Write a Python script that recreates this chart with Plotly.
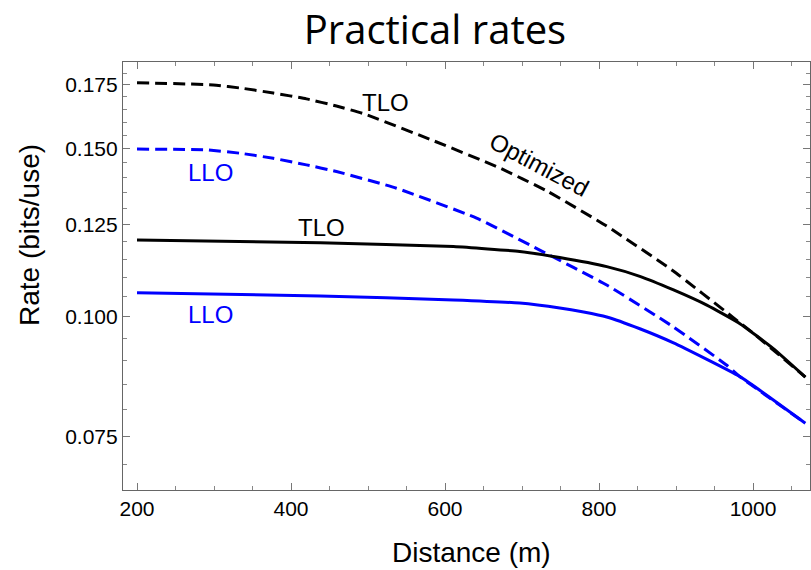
import plotly.graph_objects as go

# ---- data ----
tlo_opt_d = [200, 299, 338, 377, 420, 459, 494, 581, 668, 733, 810, 896, 974, 1000, 1068]
tlo_opt_v = [0.1759, 0.1750, 0.1735, 0.1716, 0.1692, 0.1663, 0.1633, 0.1534, 0.1436, 0.1354, 0.1245, 0.1118, 0.0999, 0.0962, 0.0865]

tlo_d = [200, 438, 611, 697, 749, 810, 853, 896, 940, 983, 1026, 1068]
tlo_v = [0.1204, 0.1196, 0.1185, 0.1171, 0.1154, 0.1129, 0.1103, 0.1068, 0.1029, 0.0984, 0.0927, 0.0865]

llo_opt_d = [200, 290, 334, 377, 420, 459, 537, 641, 723, 810, 896, 966, 983, 1068]
llo_opt_v = [0.1499, 0.1496, 0.1484, 0.1466, 0.1443, 0.1420, 0.1364, 0.1269, 0.1175, 0.1080, 0.0977, 0.0890, 0.0866, 0.0774]

llo_d = [200, 438, 611, 697, 749, 780, 810, 853, 896, 983, 1068]
llo_v = [0.1060, 0.1052, 0.1042, 0.1034, 0.1022, 0.1012, 0.1000, 0.0972, 0.0940, 0.0866, 0.0774]

x_ticks = [200, 400, 600, 800, 1000]
y_ticks = [0.075, 0.100, 0.125, 0.150, 0.175]
y_tick_text = ["0.075", "0.100", "0.125", "0.150", "0.175"]

BLUE = "#0000ff"
BLACK = "#000000"
FONT = "Liberation Sans, Arial, Helvetica, sans-serif"
SM = 0.45

fig = go.Figure()
fig.add_trace(go.Scatter(x=tlo_opt_d, y=tlo_opt_v, mode="lines", line=dict(color=BLACK, width=3, dash="12px,6px", shape="spline", smoothing=SM)))
fig.add_trace(go.Scatter(x=llo_opt_d, y=llo_opt_v, mode="lines", line=dict(color=BLUE, width=3, dash="12px,6px", shape="spline", smoothing=SM)))
fig.add_trace(go.Scatter(x=tlo_d, y=tlo_v, mode="lines", line=dict(color=BLACK, width=3, shape="spline", smoothing=SM)))
fig.add_trace(go.Scatter(x=llo_d, y=llo_v, mode="lines", line=dict(color=BLUE, width=3, shape="spline", smoothing=SM)))

minor_y = [round(0.065 + 0.005 * i, 3) for i in range(25)]
minor_y = [v for v in minor_y if v not in y_ticks]

axis_common = dict(showline=True, linecolor="#666666", linewidth=1.2, mirror="ticks",
                   ticks="inside", tickcolor="#777777", ticklen=7, tickwidth=1,
                   showgrid=False, zeroline=False,
                   tickfont=dict(family=FONT, size=21, color="#000000"))

fig.update_xaxes(range=[181.8, 1074], tickmode="array", tickvals=x_ticks,
                 minor=dict(dtick=50, tick0=0, ticks="inside", ticklen=4, tickcolor="#888888"),
                 **axis_common)
fig.update_yaxes(type="log", range=[-1.1812, -0.733], tickmode="array", tickvals=y_ticks,
                 ticktext=y_tick_text,
                 minor=dict(tickmode="array", tickvals=minor_y, ticks="inside", ticklen=4, tickcolor="#888888"),
                 **axis_common)

def lab(text, x, ylog, color, angle=0):
    fig.add_annotation(x=x, y=ylog, xref="x", yref="y", text=text, showarrow=False,
                       textangle=angle, xanchor="center", yanchor="middle",
                       font=dict(family=FONT, size=24, color=color))

lab("TLO", 523, -0.7759, BLACK)
lab("LLO", 296, -0.8482, BLUE)
lab("TLO", 440, -0.9068, BLACK)
lab("LLO", 295, -0.9969, BLUE)
lab("Optimized", 722, -0.8408, BLACK, angle=28)

fig.add_annotation(x=0.5066, y=-0.147, xref="paper", yref="paper", text="Distance (m)",
                   showarrow=False, xanchor="center", yanchor="middle",
                   font=dict(family=FONT, size=28, color="#000000"))
fig.add_annotation(x=-0.1354, y=0.5958, xref="paper", yref="paper", text="Rate (bits/use)",
                   showarrow=False, xanchor="center", yanchor="middle", textangle=-90,
                   font=dict(family=FONT, size=28, color="#000000"))

fig.update_layout(
    width=811, height=570,
    margin=dict(l=123, r=1, t=62, b=80),
    paper_bgcolor="white", plot_bgcolor="white",
    showlegend=False,
    title=dict(text="Practical rates", x=435 / 811, y=1 - 30 / 570, xref="container", yref="container",
               xanchor="center", yanchor="middle",
               font=dict(family="Open Sans, Noto Sans, sans-serif", size=40, color="#000000")),
)

fig.write_html("out.html")
